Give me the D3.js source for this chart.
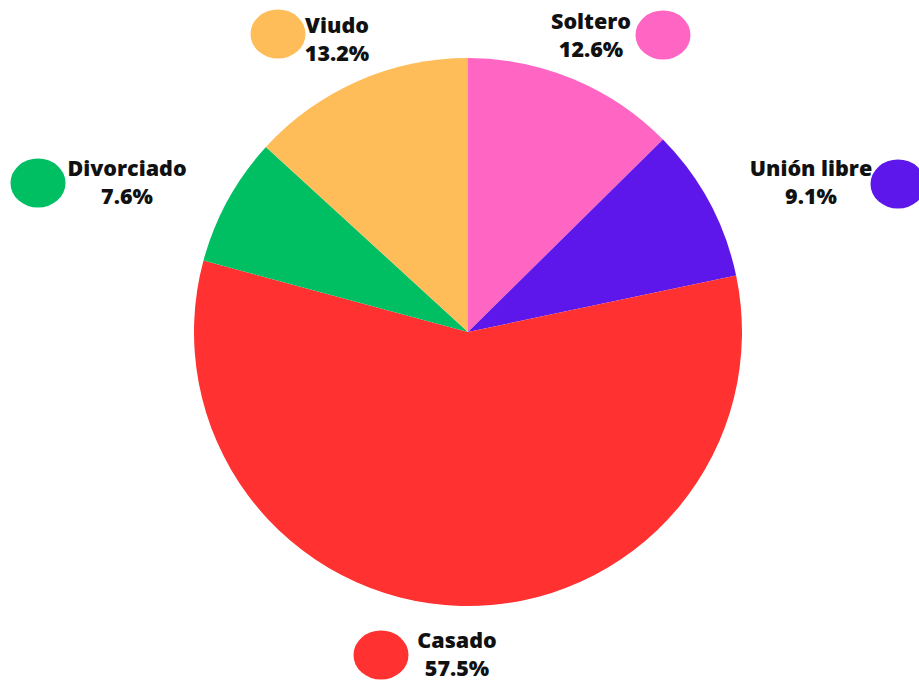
<!DOCTYPE html>
<html>
<head>
<meta charset="utf-8">
<script src="https://cdn.jsdelivr.net/npm/d3@7"></script>
<style>
  html, body { margin: 0; padding: 0; background: #fff; overflow: hidden; }
  text { font-family: "Open Sans", sans-serif; font-weight: 800; fill: #111; }
</style>
</head>
<body>
<svg id="chart"></svg>
<script>
const width = 919;
const height = 681;

// data, clockwise from 12 o'clock
const categories = ['Soltero', 'Unión libre', 'Casado', 'Divorciado', 'Viudo'];
const percents = [12.6, 9.1, 57.5, 7.6, 13.2];
const colors = ['#FF66C4', '#5E17EB', '#FF3131', '#00BF63', '#FFBD59'];

// where each label sits (dot center, text center, first baseline)
const labelPos = {
    'Soltero':     {dot: [663, 35],  text: [591, 29]},
    'Unión libre': {dot: [898, 184], text: [811, 176]},
    'Casado':      {dot: [381, 655], text: [457, 648]},
    'Divorciado':  {dot: [38, 183],  text: [127, 176]},
    'Viudo':       {dot: [278, 34],  text: [337, 33]}
};

const cx = 468, cy = 332, radius = 274;

const svg = d3.select('#chart').attr('width', width).attr('height', height);

const data = categories.map(function (c, i) {
    return {name: c, value: percents[i], color: colors[i]};
});

const pie = d3.pie().sort(null).value(d => d.value);
const arc = d3.arc().innerRadius(0).outerRadius(radius);

svg.append('g')
    .attr('transform', `translate(${cx},${cy})`)
    .selectAll('path')
    .data(pie(data))
    .join('path')
    .attr('d', arc)
    .attr('fill', d => d.data.color);

const labels = svg.append('g')
    .selectAll('g')
    .data(data)
    .join('g');

labels.append('ellipse')
    .attr('cx', d => labelPos[d.name].dot[0])
    .attr('cy', d => labelPos[d.name].dot[1])
    .attr('rx', 27.5)
    .attr('ry', 24.5)
    .attr('fill', d => d.color);

labels.append('text')
    .attr('x', d => labelPos[d.name].text[0])
    .attr('y', d => labelPos[d.name].text[1])
    .attr('text-anchor', 'middle')
    .attr('font-size', 21.5)
    .text(d => d.name);

labels.append('text')
    .attr('x', d => labelPos[d.name].text[0])
    .attr('y', d => labelPos[d.name].text[1] + 28)
    .attr('text-anchor', 'middle')
    .attr('font-size', 21.5)
    .text(d => d.value.toFixed(1) + '%');
</script>
</body>
</html>
